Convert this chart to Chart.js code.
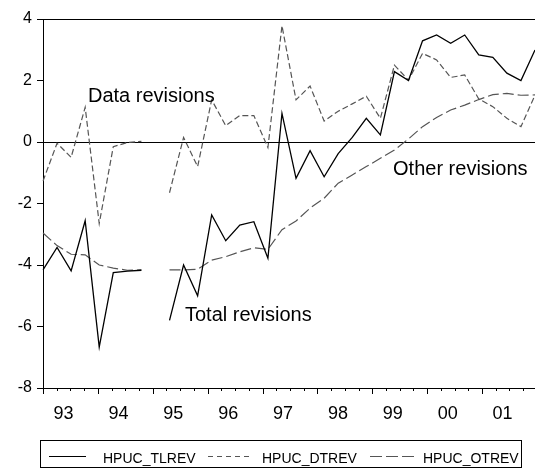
<!DOCTYPE html>
<html><head><meta charset="utf-8">
<script src="https://cdn.jsdelivr.net/npm/chart.js@4"></script>
<style>html,body{margin:0;padding:0;background:#fff;overflow:hidden}canvas{display:block}</style>
</head><body>
<canvas id="c" width="535" height="469"></canvas>
<script>
const quarters = ['1993Q1','1993Q2','1993Q3','1993Q4','1994Q1','1994Q2','1994Q3','1994Q4',
  '1995Q1','1995Q2','1995Q3','1995Q4','1996Q1','1996Q2','1996Q3','1996Q4',
  '1997Q1','1997Q2','1997Q3','1997Q4','1998Q1','1998Q2','1998Q3','1998Q4',
  '1999Q1','1999Q2','1999Q3','1999Q4','2000Q1','2000Q2','2000Q3','2000Q4',
  '2001Q1','2001Q2','2001Q3','2001Q4'];
const yearLabels = ['93','94','95','96','97','98','99','00','01'];
const yTicks = [4,2,0,-2,-4,-6,-8];
const seriesNames = ['HPUC_TLREV','HPUC_DTREV','HPUC_OTREV'];
const tlrev = [-4.16,-3.43,-4.19,-2.56,-6.67,-4.25,-4.2,-4.17,null,-5.8,-4.0,-5.0,-2.37,-3.21,-2.7,-2.59,-3.78,0.93,-1.18,-0.28,-1.13,-0.38,0.15,0.77,0.23,2.29,2.0,3.29,3.48,3.21,3.48,2.83,2.75,2.24,2.0,2.99];
const dtrev = [-1.27,-0.04,-0.5,1.13,-2.65,-0.15,-0.02,0.02,null,-1.65,0.15,-0.8,1.37,0.53,0.86,0.86,-0.18,3.78,1.37,1.82,0.68,1.0,1.24,1.49,0.77,2.5,2.01,2.88,2.67,2.1,2.18,1.4,1.15,0.77,0.5,1.52];
const otrev = [-2.96,-3.37,-3.65,-3.67,-4.0,-4.1,-4.17,-4.16,null,-4.16,-4.16,-4.14,-3.84,-3.73,-3.57,-3.44,-3.49,-2.85,-2.57,-2.15,-1.83,-1.34,-1.07,-0.8,-0.53,-0.26,0.1,0.5,0.8,1.04,1.2,1.38,1.54,1.58,1.52,1.53];
const notes = [
  {text:'Data revisions', x:3.2, y:1.31},
  {text:'Other revisions', x:24.9, y:-1.07},
  {text:'Total revisions', x:10.1, y:-5.81}
];

const FONT = '"Liberation Sans", Arial, Helvetica, sans-serif';
const styles = [
  {color:'#000000', dash:[], width:1.3},
  {color:'#555555', dash:[6,3], width:1.2},
  {color:'#555555', dash:[11,4], width:1.2}
];

const overlay = {
  id:'overlay',
  afterDraw(chart){
    const ctx = chart.ctx, a = chart.chartArea;
    const xq = chart.scales.xq, xs = chart.scales.x, ys = chart.scales.y;
    ctx.save();
    ctx.strokeStyle = '#000'; ctx.lineWidth = 1;
    // x ticks (quarterly minor, yearly major)
    const b = Math.round(a.bottom);
    ctx.beginPath();
    for (let q = 0; q <= Math.floor(xq.max); q++) {
      const px = Math.round(xq.getPixelForValue(q)) + 0.5;
      const len = q % 4 === 0 ? 6 : 3;
      ctx.moveTo(px, b); ctx.lineTo(px, b + len);
    }
    ctx.stroke();
    // year labels
    ctx.fillStyle = '#000';
    ctx.font = '18px ' + FONT;
    ctx.textAlign = 'center'; ctx.textBaseline = 'alphabetic';
    yearLabels.forEach((t, k) => {
      ctx.fillText(t, xq.getPixelForValue(4 * k + 1.5), a.bottom + 30.5);
    });
    // annotations
    ctx.font = '20px ' + FONT;
    ctx.textAlign = 'left';
    notes.forEach(n => ctx.fillText(n.text, xs.getPixelForValue(n.x), ys.getPixelForValue(n.y)));
    // legend box
    ctx.lineWidth = 1;
    ctx.strokeRect(40.5, 440.5, 481, 27);
    const lx = [49, 208, 370], tx = [103, 262, 423], lw = [37, 44, 45];
    const legDash = [[], [5,4], [12,4]];
    ctx.font = '14px ' + FONT;
    seriesNames.forEach((nm, i) => {
      ctx.save();
      ctx.strokeStyle = styles[i].color;
      ctx.lineWidth = 1.2;
      ctx.setLineDash(legDash[i]);
      ctx.beginPath(); ctx.moveTo(lx[i], 456.5); ctx.lineTo(lx[i] + lw[i], 456.5); ctx.stroke();
      ctx.restore();
      ctx.fillStyle = '#000';
      ctx.fillText(nm, tx[i], 462.5);
    });
    ctx.restore();
  }
};

const mk = (label, data, s) => ({
  label, data, borderColor: s.color, borderWidth: s.width, borderDash: s.dash,
  pointRadius: 0, tension: 0, spanGaps: false, fill: false, xAxisID:'x', yAxisID:'y'
});

new Chart(document.getElementById('c'), {
  type: 'line',
  data: {
    labels: quarters,
    datasets: [
      mk(seriesNames[0], tlrev, styles[0]),
      mk(seriesNames[1], dtrev, styles[1]),
      mk(seriesNames[2], otrev, styles[2])
    ]
  },
  options: {
    responsive: false, animation: false, devicePixelRatio: 1,
    layout: { padding: { top: 19, bottom: 81, left: 0, right: 0 } },
    plugins: { legend: { display: false }, tooltip: { enabled: false } },
    scales: {
      x: { type: 'category', display: false, offset: false },
      xq: { type: 'linear', position: 'bottom', display: false, min: 0, max: 35.86 },
      y: {
        min: -8, max: 4,
        afterBuildTicks: s => { s.ticks = yTicks.map(v => ({ value: v })); },
        afterFit: s => { s.width = 43; },
        ticks: { font: { size: 16, family: FONT }, color: '#000', padding: 5 },
        grid: {
          drawOnChartArea: true,
          color: c => (c.tick && (c.tick.value === 0 || c.tick.value === 4 || c.tick.value === -8)) ? '#000' : 'rgba(0,0,0,0)',
          tickColor: '#000', tickLength: 6, lineWidth: 1
        },
        border: { display: true, color: '#000', width: 1 }
      }
    }
  },
  plugins: [overlay]
});
</script>
</body></html>
